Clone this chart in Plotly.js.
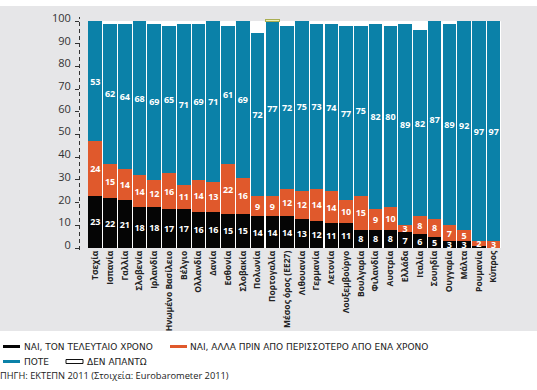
<!DOCTYPE html>
<html>
<head>
<meta charset="utf-8">
<script src="https://cdn.plot.ly/plotly-3.0.1.min.js"></script>
<style>html,body{margin:0;padding:0;background:#fff;}#chart{width:537px;height:390px;}</style>
</head>
<body>
<div id="chart"></div>
<script>
// ---- data ----
const countries = ['Τσεχία','Ισπανία','Γαλλία','Σλοβενία','Ιρλανδία','Ηνωμένο Βασίλειο','Βέλγιο','Ολλανδία','Δανία','Εσθονία','Σλοβακία','Πολωνία','Πορτογαλία','Μέσος όρος (ΕΕ27)','Λιθουανία','Γερμανία','Λετονία','Λουξεμβούργο','Βουλγαρία','Φιλανδία','Αυστρία','Ελλάδα','Ιταλία','Σουηδία','Ουγγαρία','Μάλτα','Ρουμανία','Κύπρος'];
const lastYear = [23,22,21,18,18,17,17,16,16,15,15,14,14,14,13,12,11,11,8,8,8,7,6,5,3,3,1,0];
const earlier  = [24,15,14,14,12,16,11,14,13,22,16,9,9,12,12,14,14,10,15,9,10,3,8,8,7,5,2,3];
const never    = [53,62,64,68,69,65,71,69,71,61,69,72,77,72,75,73,74,77,75,82,80,89,82,87,89,92,97,97];
const noAnswer = [0,1,1,0,1,2,1,1,0,2,0,5,1,2,0,1,1,2,2,1,2,1,4,0,1,0,0,0];
const seriesNames = ['ΝΑΙ, ΤΟΝ ΤΕΛΕΥΤΑΙΟ ΧΡΟΝΟ','ΝΑΙ, ΑΛΛΑ ΠΡΙΝ ΑΠΟ ΠΕΡΙΣΣΟΤΕΡΟ ΑΠΟ ΕΝΑ ΧΡΟΝΟ','ΠΟΤΕ','ΔΕΝ ΑΠΑΝΤΩ'];
const yTicks = [0,10,20,30,40,50,60,70,80,90,100];
const sourceText = 'ΠΗΓΗ: ΕΚΤΕΠΝ 2011 (Στοιχεία: Eurobarometer 2011)';
const highlighted = 'Πορτογαλία';

// ---- styling ----
const C_BLACK = '#050505', C_ORANGE = '#e0592c', C_BLUE = '#0b81a8', C_GRAY = '#e6e6e8';
const FONT = 'Open Sans, Noto Sans, sans-serif';
const W = 537, H = 390, ML = 80, MR = 36, MT = 19, MB = 142;
const PW = W - ML - MR, PH = H - MT - MB;
const px = X => (X - ML) / PW;
const py = Y => (H - MB - Y) / PH;

const labelText = arr => arr.map(v => v >= 2 ? String(v) : '');
const textFont = {color: '#ffffff', size: 9, family: FONT, weight: 'bold'};

function barTrace(vals, color, name, withText) {
  return {
    type: 'bar', x: countries, y: vals, name: name,
    marker: {color: color, line: {width: 0}},
    text: withText ? labelText(vals) : undefined,
    texttemplate: withText ? '%{text}' : undefined,
    textposition: withText ? 'inside' : 'none',
    insidetextanchor: 'middle', textangle: 0,
    textfont: textFont, hoverinfo: 'skip', showlegend: false
  };
}

const naTrace = barTrace(noAnswer, countries.map(c => c === highlighted ? '#eef0b8' : '#ffffff'), seriesNames[3], false);
naTrace.marker.line = {width: countries.map(c => c === highlighted ? 1 : 0), color: '#a9ae52'};

const data = [
  barTrace(lastYear, C_BLACK, seriesNames[0], true),
  barTrace(earlier, C_ORANGE, seriesNames[1], true),
  barTrace(never, C_BLUE, seriesNames[2], true),
  naTrace
];

const shapes = [
  {type:'rect', xref:'paper', yref:'paper', x0:px(0), x1:px(W), y0:py(331), y1:py(6), fillcolor:C_GRAY, line:{width:0}, layer:'below'},
  {type:'rect', xref:'x', yref:'y', x0:-0.5, x1:countries.length-0.5, y0:0, y1:100, fillcolor:'#ffffff', line:{width:0}, layer:'below'},
  {type:'line', xref:'paper', yref:'paper', x0:px(79.5), x1:px(79.5), y0:py(250), y1:py(17), line:{color:'#333', width:1, dash:'4px,3px'}},
  // legend symbols
  {type:'rect', xref:'paper', yref:'paper', x0:px(3), x1:px(20), y0:py(348), y1:py(345), fillcolor:C_BLACK, line:{width:0}},
  {type:'rect', xref:'paper', yref:'paper', x0:px(170), x1:px(187), y0:py(348), y1:py(345), fillcolor:C_ORANGE, line:{width:0}},
  {type:'rect', xref:'paper', yref:'paper', x0:px(3), x1:px(20), y0:py(363), y1:py(360), fillcolor:C_BLUE, line:{width:0}},
  {type:'rect', xref:'paper', yref:'paper', x0:px(66), x1:px(83), y0:py(363.5), y1:py(359.5), fillcolor:'#ffffff', line:{width:1, color:'#111'}}
];

const legFont = {family: 'DejaVu Sans, sans-serif', size: 9, color: '#222'};
const ann = (X, Y, t, f) => ({xref:'paper', yref:'paper', x:px(X), y:py(Y), xanchor:'left', yanchor:'middle', text:t, showarrow:false, font:f || legFont, borderpad:0});
const annotations = [
  ann(23, 346.5, seriesNames[0]),
  ann(189, 346.5, seriesNames[1]),
  ann(23, 361.5, seriesNames[2]),
  ann(86, 361.5, seriesNames[3]),
  ann(-1, 375.5, sourceText, {family: FONT, size: 9.3, color: '#222'})
];

const layout = {
  width: W, height: H,
  margin: {l: ML, r: MR, t: MT, b: MB},
  paper_bgcolor: '#ffffff', plot_bgcolor: 'rgba(0,0,0,0)',
  barmode: 'stack', bargap: 0.07,
  showlegend: false,
  uniformtext: {minsize: 9, mode: 'show'},
  xaxis: {type:'category', range:[-1.04, countries.length-0.5], tickangle:-90,
          tickfont:{family:FONT, size:8.5, color:'#222', weight:'bold'},
          showgrid:false, zeroline:false, showline:false, ticks:'', fixedrange:true},
  yaxis: {range:[0,101], tickvals:yTicks, ticktext:yTicks.map(String), ticks:'outside', ticklen:4, tickwidth:1, tickcolor:'#333',
          showgrid:false, zeroline:false, showline:false, ticklabelshift:-3, ticklabelstandoff:2,
          tickfont:{family:FONT, size:11, color:'#333'}, fixedrange:true},
  shapes: shapes,
  annotations: annotations,
  font: {family: FONT}
};

Plotly.newPlot('chart', data, layout, {staticPlot: true, displayModeBar: false});
</script>
</body>
</html>
